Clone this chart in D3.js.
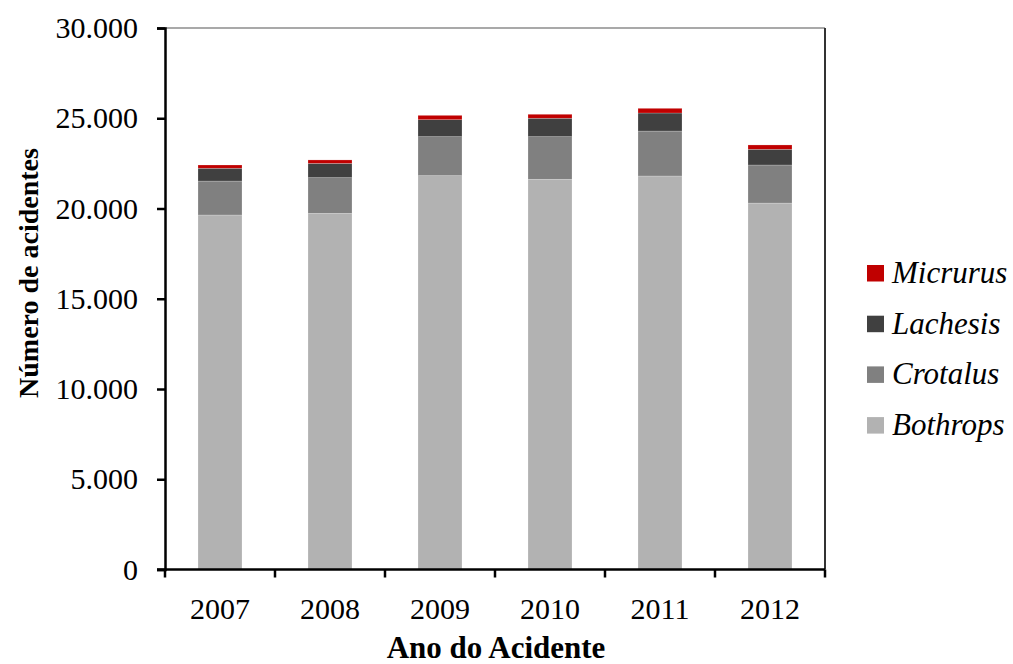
<!DOCTYPE html>
<html>
<head>
<meta charset="utf-8">
<script src="https://cdn.jsdelivr.net/npm/d3@7"></script>
<style>
  html, body { margin: 0; padding: 0; background: #fff; }
  svg { display: block; }
  text { font-family: "Liberation Serif", "Times New Roman", serif; }
</style>
</head>
<body>
<svg id="chart" width="1013" height="664"></svg>
<script>
// Snakebite accidents by genus and year
const years = ["2007", "2008", "2009", "2010", "2011", "2012"];
const bothrops = [19640, 19730, 21820, 21620, 21800, 20300];
const crotalus = [1880, 1980, 2160, 2360, 2490, 2110];
const lachesis = [710, 790, 940, 1020, 1000, 870];
const micrurus = [180, 190, 240, 220, 260, 240];
const seriesNames = ["Bothrops", "Crotalus", "Lachesis", "Micrurus"];
const seriesColors = ["#b2b2b2", "#808080", "#404040", "#c00000"];
const yTicks = [0, 5000, 10000, 15000, 20000, 25000, 30000];

const table = years.map((yr, i) => ({
  year: yr,
  Bothrops: bothrops[i],
  Crotalus: crotalus[i],
  Lachesis: lachesis[i],
  Micrurus: micrurus[i]
}));

const svg = d3.select("#chart");
const plotL = 165, plotR = 825, plotT = 28, plotB = 569.5;

const x = d3.scaleBand().domain(years).range([plotL, plotR]).paddingInner(0.6).paddingOuter(0.3);
const y = d3.scaleLinear().domain([0, 30000]).range([plotB, plotT]);

const ptBR = d3.formatLocale({ decimal: ",", thousands: ".", grouping: [3], currency: ["R$", ""] });
const fmt = ptBR.format(",d");

// Plot frame (top and right)
svg.append("line").attr("x1", plotL).attr("x2", plotR).attr("y1", plotT).attr("y2", plotT)
  .attr("stroke", "#555").attr("stroke-width", 1.2);
svg.append("line").attr("x1", plotR).attr("x2", plotR).attr("y1", plotT).attr("y2", plotB)
  .attr("stroke", "#333").attr("stroke-width", 2);

// Stacked bars
const stack = d3.stack().keys(seriesNames)(table);
const color = d3.scaleOrdinal().domain(seriesNames).range(seriesColors);

svg.append("g").selectAll("g").data(stack).join("g")
  .attr("fill", d => color(d.key))
  .selectAll("rect").data(d => d).join("rect")
  .attr("x", d => x(d.data.year))
  .attr("width", x.bandwidth())
  .attr("y", d => y(d[1]))
  .attr("height", d => y(d[0]) - y(d[1]))
  .attr("stroke", "rgba(255,255,255,0.35)")
  .attr("stroke-width", 0.6);

// Y axis
const yAxis = svg.append("g").attr("transform", `translate(${plotL},0)`)
  .call(d3.axisLeft(y).tickValues(yTicks).tickFormat(fmt).tickSize(8).tickPadding(19));
yAxis.select(".domain").attr("stroke", "#000").attr("stroke-width", 2.5);
yAxis.selectAll(".tick line").attr("stroke", "#000").attr("stroke-width", 2.5);
yAxis.selectAll("text").attr("font-size", 30).attr("fill", "#000")
  .style("font-family", "'Liberation Serif', serif");

// X axis: ticks at category boundaries
const xAxisG = svg.append("g").attr("transform", `translate(0,${plotB})`);
xAxisG.append("line").attr("x1", plotL - 8).attr("x2", plotR).attr("y1", 0).attr("y2", 0)
  .attr("stroke", "#000").attr("stroke-width", 2.5);
const step = x.step();
const boundaries = d3.range(years.length + 1).map(i => plotL + i * step);
xAxisG.selectAll("line.tk").data(boundaries).join("line").attr("class", "tk")
  .attr("x1", d => d).attr("x2", d => d).attr("y1", 0).attr("y2", 8)
  .attr("stroke", "#000").attr("stroke-width", 2.5);
xAxisG.selectAll("text").data(years).join("text")
  .attr("x", d => x(d) + x.bandwidth() / 2)
  .attr("y", 49.5)
  .attr("text-anchor", "middle")
  .attr("font-size", 30)
  .text(d => d);

// Axis titles
svg.append("text")
  .attr("transform", `translate(38,273) rotate(-90)`)
  .attr("text-anchor", "middle")
  .attr("font-size", 28).attr("font-weight", "bold")
  .text("Número de acidentes");
svg.append("text")
  .attr("x", 496).attr("y", 658)
  .attr("text-anchor", "middle")
  .attr("font-size", 31).attr("font-weight", "bold")
  .text("Ano do Acidente");

// Legend (top entry is the top of the stack)
const legendOrder = seriesNames.slice().reverse();
const lg = svg.append("g").selectAll("g").data(legendOrder).join("g")
  .attr("transform", (d, i) => `translate(867,${273 + i * 50.7})`);
lg.append("rect").attr("x", 0).attr("y", -8).attr("width", 17).attr("height", 16.5)
  .attr("fill", d => color(d));
lg.append("text").attr("x", 25).attr("y", 10)
  .attr("font-size", 31).attr("font-style", "italic")
  .text(d => d);
</script>
</body>
</html>
